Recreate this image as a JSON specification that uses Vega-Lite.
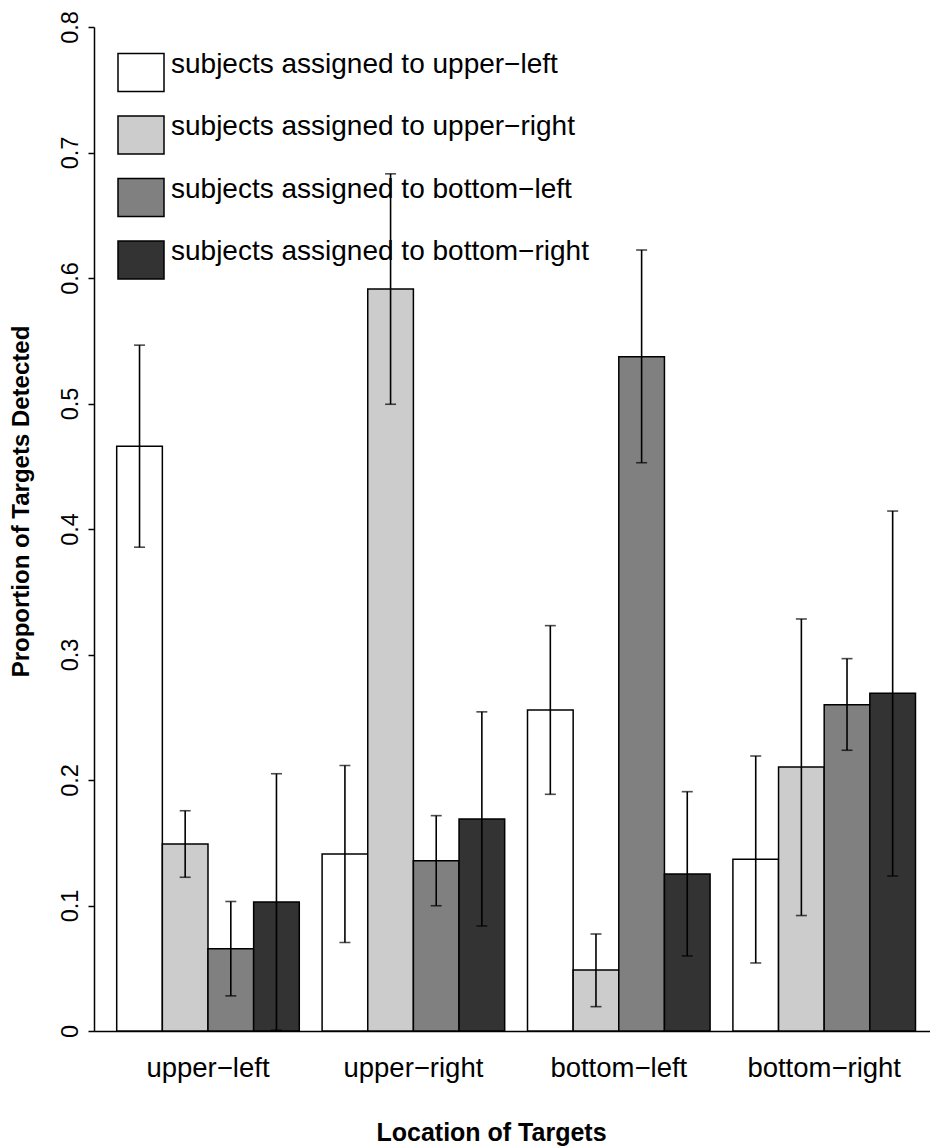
{
  "$schema": "https://vega.github.io/schema/vega-lite/v6.json",
  "width": 836,
  "height": 1004,
  "autosize": {"type": "none"},
  "padding": {"left": 94, "top": 27, "right": 0, "bottom": 117},
  "background": "white",
  "config": {"view": {"stroke": null}, "font": "Liberation Sans"},
  "data": {
    "values": [
      {"location": "upper−left", "subject": "subjects assigned to upper−left", "mean": 0.466, "lo": 0.3855, "hi": 0.5465},
      {"location": "upper−left", "subject": "subjects assigned to upper−right", "mean": 0.149, "lo": 0.1225, "hi": 0.1755},
      {"location": "upper−left", "subject": "subjects assigned to bottom−left", "mean": 0.0656, "lo": 0.028, "hi": 0.1032},
      {"location": "upper−left", "subject": "subjects assigned to bottom−right", "mean": 0.1028, "lo": 0.0006, "hi": 0.205},
      {"location": "upper−right", "subject": "subjects assigned to upper−left", "mean": 0.141, "lo": 0.0705, "hi": 0.2115},
      {"location": "upper−right", "subject": "subjects assigned to upper−right", "mean": 0.5912, "lo": 0.4994, "hi": 0.683},
      {"location": "upper−right", "subject": "subjects assigned to bottom−left", "mean": 0.1357, "lo": 0.0998, "hi": 0.1716},
      {"location": "upper−right", "subject": "subjects assigned to bottom−right", "mean": 0.169, "lo": 0.0837, "hi": 0.2543},
      {"location": "bottom−left", "subject": "subjects assigned to upper−left", "mean": 0.2558, "lo": 0.1886, "hi": 0.323},
      {"location": "bottom−left", "subject": "subjects assigned to upper−right", "mean": 0.0486, "lo": 0.0194, "hi": 0.0773},
      {"location": "bottom−left", "subject": "subjects assigned to bottom−left", "mean": 0.5373, "lo": 0.4528, "hi": 0.6223},
      {"location": "bottom−left", "subject": "subjects assigned to bottom−right", "mean": 0.1251, "lo": 0.0598, "hi": 0.1907},
      {"location": "bottom−right", "subject": "subjects assigned to upper−left", "mean": 0.1368, "lo": 0.0542, "hi": 0.2191},
      {"location": "bottom−right", "subject": "subjects assigned to upper−right", "mean": 0.2104, "lo": 0.092, "hi": 0.3283},
      {"location": "bottom−right", "subject": "subjects assigned to bottom−left", "mean": 0.26, "lo": 0.2237, "hi": 0.2967},
      {"location": "bottom−right", "subject": "subjects assigned to bottom−right", "mean": 0.2691, "lo": 0.1235, "hi": 0.4143}
    ]
  },
  "encoding": {
    "x": {
      "field": "location",
      "type": "nominal",
      "sort": ["upper−left", "upper−right", "bottom−left", "bottom−right"],
      "scale": {"paddingInner": 0.1111, "paddingOuter": 0.0906, "align": 0.61},
      "axis": {
        "title": "Location of Targets",
        "titleFontSize": 25,
        "titleFontWeight": "bold",
        "titleColor": "black",
        "titleX": 397,
        "titleY": 109,
        "titleAlign": "center",
        "titleBaseline": "alphabetic",
        "labelAngle": 0,
        "labelFontSize": 27.5,
        "labelColor": "black",
        "labelBaseline": "alphabetic",
        "labelPadding": 45,
        "ticks": false,
        "domain": true,
        "domainColor": "black",
        "domainWidth": 1.5,
        "grid": false
      }
    },
    "xOffset": {
      "field": "subject",
      "type": "nominal",
      "sort": ["subjects assigned to upper−left", "subjects assigned to upper−right", "subjects assigned to bottom−left", "subjects assigned to bottom−right"],
      "scale": {"paddingInner": 0, "paddingOuter": 0}
    }
  },
  "layer": [
    {
      "mark": {"type": "bar", "stroke": "black", "strokeWidth": 1.5},
      "encoding": {
        "y": {
          "field": "mean",
          "type": "quantitative",
          "scale": {"domain": [0, 0.8], "nice": false, "zero": true},
          "axis": {
            "title": "Proportion of Targets Detected",
            "titleFontSize": 24,
            "titleFontWeight": "bold",
            "titleColor": "black",
            "titleAngle": -90,
            "titleX": -66,
            "titleY": 474,
            "titleAlign": "center",
            "titleBaseline": "alphabetic",
            "values": [0, 0.1, 0.2, 0.3, 0.4, 0.5, 0.6, 0.7, 0.8],
            "format": "~g",
            "labelAngle": -90,
            "labelAlign": "center",
            "labelBaseline": "alphabetic",
            "labelFontSize": 23.5,
            "labelColor": "black",
            "labelPadding": 11,
            "tickSize": 6,
            "tickWidth": 1.5,
            "tickColor": "black",
            "domainColor": "black",
            "domainWidth": 1.5,
            "grid": false
          }
        },
        "fill": {
          "field": "subject",
          "type": "nominal",
          "sort": ["subjects assigned to upper−left", "subjects assigned to upper−right", "subjects assigned to bottom−left", "subjects assigned to bottom−right"],
          "scale": {"range": ["#ffffff", "#cccccc", "#808080", "#333333"]},
          "legend": {
            "title": null,
            "orient": "none",
            "legendX": 23,
            "legendY": 21.5,
            "padding": 0,
            "symbolType": "M-1,-0.826H1V0.826H-1Z",
            "symbolSize": 2116,
            "symbolStrokeColor": "black",
            "symbolStrokeWidth": 1.5,
            "symbolOpacity": 1,
            "labelFontSize": 28,
            "labelColor": "black",
            "labelOffset": 6,
            "labelBaseline": "alphabetic",
            "labelLimit": 700,
            "rowPadding": 16.5
          }
        }
      }
    },
    {
      "mark": {"type": "rule", "color": "black", "strokeWidth": 1.6},
      "encoding": {
        "y": {"field": "lo", "type": "quantitative"},
        "y2": {"field": "hi"}
      }
    },
    {
      "mark": {"type": "tick", "orient": "horizontal", "size": 11, "thickness": 1.6, "color": "black"},
      "encoding": {"y": {"field": "lo", "type": "quantitative"}}
    },
    {
      "mark": {"type": "tick", "orient": "horizontal", "size": 11, "thickness": 1.6, "color": "black"},
      "encoding": {"y": {"field": "hi", "type": "quantitative"}}
    }
  ]
}
